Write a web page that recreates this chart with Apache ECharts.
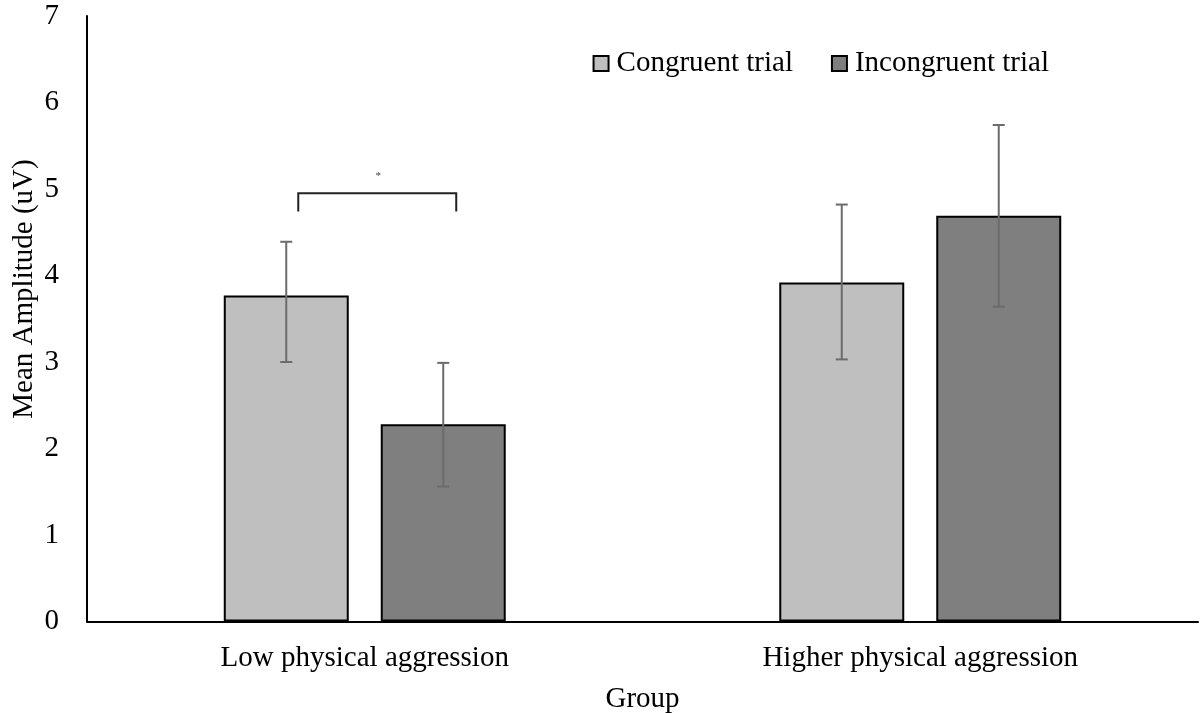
<!DOCTYPE html>
<html>
<head>
<meta charset="utf-8">
<script src="https://cdn.jsdelivr.net/npm/echarts@6/dist/echarts.min.js"></script>
<style>html,body{margin:0;padding:0;background:#fff;}#chart{width:1200px;height:713px;}</style>
</head>
<body>
<div id="chart"></div>
<script>
var categories = ['Low physical aggression', 'Higher physical aggression'];
var seriesNames = ['Congruent trial', 'Incongruent trial'];
var congruent = [3.77, 3.92];
var incongruent = [2.28, 4.69];
var congruentErrLow = [3.00, 3.03];
var congruentErrHigh = [4.39, 4.82];
var incongruentErrLow = [1.56, 3.64];
var incongruentErrHigh = [2.99, 5.74];
var yMin = 0, yMax = 7, yInterval = 1;
var bracket = [[0, 4.95, 4.74, 5.2]]; // category, bracket top, bracket foot, star level
var axisLabel = 'Mean Amplitude (uV)';
var xAxisName = 'Group';

var FONT = '"Liberation Serif", "Times New Roman", serif';
var FS = 29;
var BAR_W = 0.225, BAR_GAP = 0.256;

function barOffset(api, sIdx) {
  var band = api.size([1, 0])[0];
  var w = band * BAR_W;
  var off = (w + w * BAR_GAP) / 2;
  return sIdx === 0 ? -off : off;
}

function errRender(sIdx) {
  return function (params, api) {
    var x = api.coord([api.value(0), 0])[0] + barOffset(api, sIdx);
    var lo = api.coord([api.value(0), api.value(1)])[1];
    var hi = api.coord([api.value(0), api.value(2)])[1];
    var cap = 6;
    var st = { stroke: '#6b6b6b', lineWidth: 2 };
    return { type: 'group', children: [
      { type: 'line', shape: { x1: x, y1: hi, x2: x, y2: lo }, style: st },
      { type: 'line', shape: { x1: x - cap, y1: hi, x2: x + cap, y2: hi }, style: st },
      { type: 'line', shape: { x1: x - cap, y1: lo, x2: x + cap, y2: lo }, style: st }
    ]};
  };
}

var chart = echarts.init(document.getElementById('chart'));
chart.setOption({
  animation: false,
  backgroundColor: '#fff',
  textStyle: { fontFamily: FONT },
  grid: { left: 87, right: 2, top: 16, bottom: 91.5, containLabel: false, outerBoundsMode: 'none' },
  legend: {
    data: seriesNames,
    icon: 'rect',
    right: 146, top: 44,
    itemWidth: 15, itemHeight: 15, itemGap: 38,
    textStyle: { fontFamily: FONT, fontSize: FS, color: '#000', padding: [0, 0, 0, 3] }
  },
  xAxis: {
    type: 'category', data: categories,
    name: xAxisName, nameLocation: 'middle', nameGap: 63,
    nameTextStyle: { fontFamily: FONT, fontSize: FS, color: '#000' },
    axisLine: { lineStyle: { color: '#000', width: 2 } },
    axisTick: { show: false },
    axisLabel: { fontFamily: FONT, fontSize: FS, color: '#000', margin: 22 }
  },
  yAxis: {
    type: 'value', min: yMin, max: yMax, interval: yInterval,
    axisLine: { show: true, lineStyle: { color: '#000', width: 2 } },
    axisTick: { show: false },
    splitLine: { show: false },
    axisLabel: { fontFamily: FONT, fontSize: FS, color: '#000', margin: 28 }
  },
  graphic: [{
    type: 'text', x: 24, y: 289, rotation: Math.PI / 2,
    style: { text: axisLabel, fontFamily: FONT, fontSize: FS, fill: '#000', align: 'center', verticalAlign: 'middle' }
  }],
  series: [
    { name: seriesNames[0], type: 'bar', data: congruent, barWidth: (BAR_W * 100) + '%', barGap: (BAR_GAP * 100) + '%',
      itemStyle: { color: '#bfbfbf', borderColor: '#000', borderWidth: 2 } },
    { name: seriesNames[1], type: 'bar', data: incongruent, barWidth: (BAR_W * 100) + '%', barGap: (BAR_GAP * 100) + '%',
      itemStyle: { color: '#7f7f7f', borderColor: '#000', borderWidth: 2 } },
    { type: 'custom', z: 5, renderItem: errRender(0),
      data: categories.map(function (c, i) { return [i, congruentErrLow[i], congruentErrHigh[i]]; }) },
    { type: 'custom', z: 5, renderItem: errRender(1),
      data: categories.map(function (c, i) { return [i, incongruentErrLow[i], incongruentErrHigh[i]]; }) },
    { type: 'custom', z: 5, data: bracket,
      renderItem: function (params, api) {
        var x0 = api.coord([api.value(0), 0])[0];
        var xl = x0 + barOffset(api, 0) + 12;
        var xr = x0 + barOffset(api, 1) + 13;
        var yt = api.coord([api.value(0), api.value(1)])[1];
        var yf = api.coord([api.value(0), api.value(2)])[1];
        var ys = api.coord([api.value(0), api.value(3)])[1];
        return { type: 'group', children: [
          { type: 'polyline', shape: { points: [[xl, yf], [xl, yt], [xr, yt], [xr, yf]] },
            style: { stroke: '#222', lineWidth: 2, fill: null } },
          { type: 'text', style: { text: '*', x: (xl + xr) / 2 + 1, y: ys + 4, fontSize: 11, fill: '#444',
            align: 'center', verticalAlign: 'middle', fontFamily: FONT } }
        ]};
      } }
  ]
});
</script>
</body>
</html>
